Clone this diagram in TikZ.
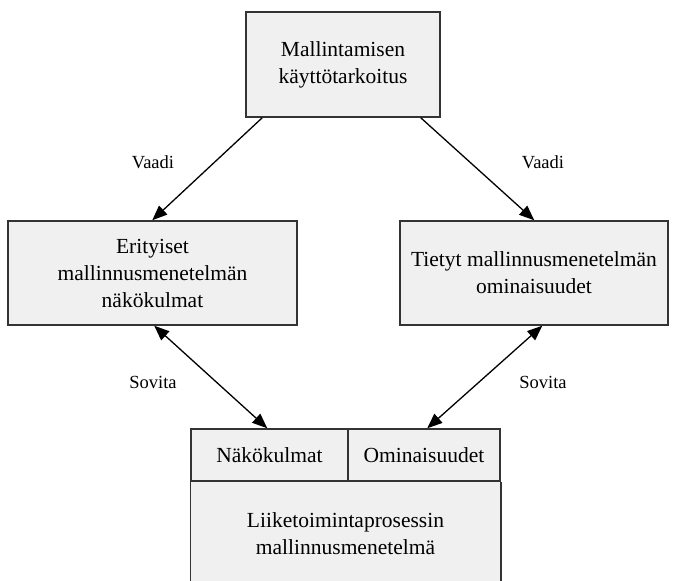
\documentclass[tikz,border=0pt]{standalone}
\usepackage{fontspec}
\setmainfont{Liberation Serif}
\usetikzlibrary{arrows.meta}
\definecolor{boxfill}{HTML}{F0F0F0}
\definecolor{boxline}{HTML}{333333}
\tikzset{
  box/.style={draw=boxline, fill=boxfill, line width=1.5pt, rectangle,
    inner sep=0pt, align=center, font=\fontsize{21.5}{27}\selectfont},
  boxtext/.style={inner sep=0pt, align=center, font=\fontsize{21.5}{27}\selectfont},
  lbl/.style={inner sep=0pt, font=\fontsize{18.5}{21}\selectfont},
  link/.style={line width=1.3pt, -{Triangle[length=15pt,width=12pt]}},
  dlink/.style={line width=1.3pt, {Triangle[length=15pt,width=12pt]}-{Triangle[length=15pt,width=12pt]}}
}
\begin{document}
\begin{tikzpicture}[x=1pt,y=-1pt]
\clip (0,0) rectangle (678,581);
\fill[white] (0,0) rectangle (678,581);

% upper boxes
\node[box, minimum width=194pt, minimum height=105pt] (top) at (343,64.5)
  {Mallintamisen\\käyttötarkoitus};
\node[box, minimum width=289pt, minimum height=104pt] (left) at (152.5,273)
  {Erityiset\\mallinnusmenetelmän\\näkökulmat};
\node[box, minimum width=268pt, minimum height=104pt] (right) at (534,273)
  {Tietyt mallinnusmenetelmän\\ominaisuudet};

% lower box: open at the bottom, two header cells above the body
\fill[boxfill] (191,481) rectangle (500,600);
\node[box, minimum width=157pt, minimum height=52pt] (nak) at (269.5,455) {Näkökulmat};
\node[box, minimum width=152pt, minimum height=52pt] (omi) at (424,455) {Ominaisuudet};
\draw[boxline, line width=1.5pt] (nak.south west) -- ++(0,120);
\draw[boxline, line width=1.5pt] (omi.south east) -- ++(0,120);
\node[boxtext] (body) at (345.5,534) {Liiketoimintaprosessin\\mallinnusmenetelmä};

% connectors
\draw[link] ([xshift=17pt]top.south west) -- ([xshift=145pt]left.north west);
\draw[link] ([xshift=-20pt]top.south east) -- ([xshift=135pt]right.north west);
\draw[dlink] ([xshift=147pt]left.south west) -- ([xshift=77pt]nak.north west);
\draw[dlink] ([xshift=143pt]right.south west) -- ([xshift=80pt]omi.north west);

% connector labels
\node[lbl] (v1) at (153,162) {Vaadi};
\node[lbl] (v2) at (543,162) {Vaadi};
\node[lbl] (s1) at (153,382) {Sovita};
\node[lbl] (s2) at (543,382) {Sovita};
\end{tikzpicture}
\end{document}
